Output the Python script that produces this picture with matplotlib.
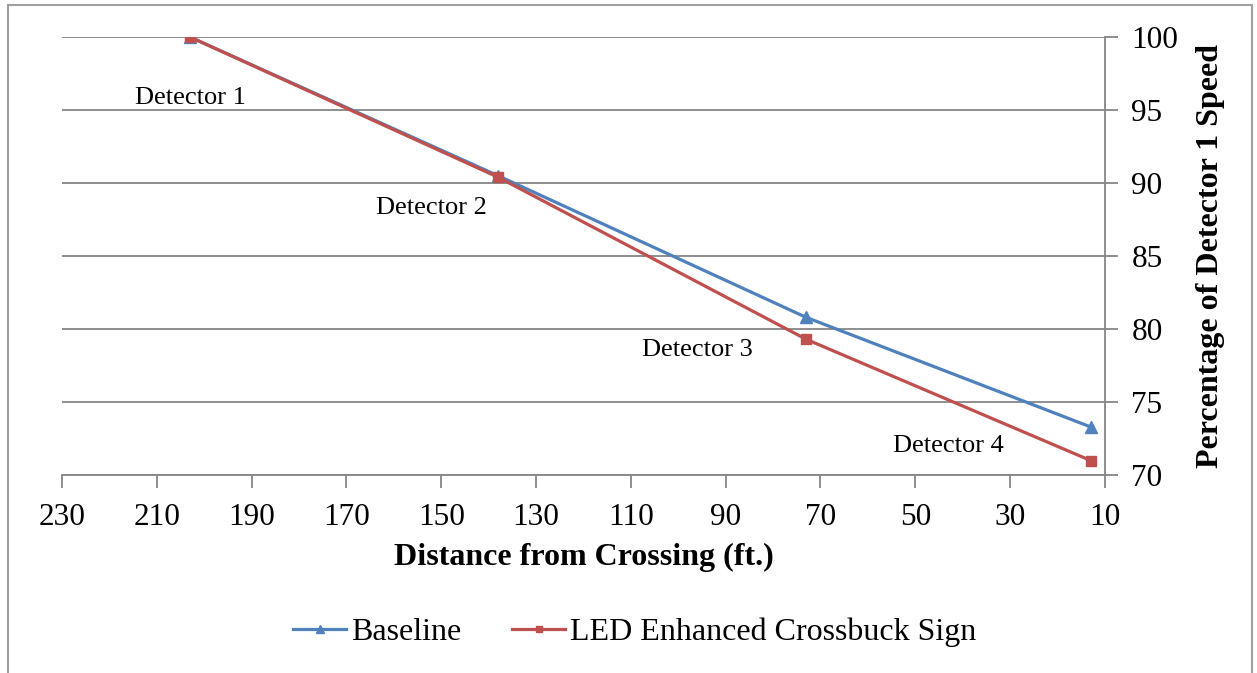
"""Speed profile along the approach: baseline vs LED enhanced crossbuck sign."""

import matplotlib
matplotlib.use("Agg")
import matplotlib.pyplot as plt
from matplotlib.patches import Rectangle

# Data
distance = [203, 138, 73, 13]
baseline = [100.0, 90.5, 80.8, 73.3]
led_sign = [100.0, 90.4, 79.3, 71.0]
series_names = ["Baseline", "LED Enhanced Crossbuck Sign"]

detector_labels = ["Detector 1", "Detector 2", "Detector 3", "Detector 4"]
label_x = [203, 152, 96, 43]
label_y = [95.8, 88.3, 78.6, 72.0]

x_ticks = list(range(230, 9, -20))
y_ticks = [70, 75, 80, 85, 90, 95, 100]

blue = "#4F81BD"
red = "#C0504D"
grid_gray = "#868686"

plt.rcParams["font.family"] = ["Liberation Serif", "DejaVu Serif"]

fig = plt.figure(figsize=(12.57, 6.73), dpi=100)
ax = fig.add_axes([0.0493, 0.294, 0.8297, 0.651])

ax.plot(distance, baseline, color=blue, lw=2.3, marker="^", ms=8,
        label=series_names[0], zorder=3)
ax.plot(distance, led_sign, color=red, lw=2.3, marker="s", ms=7,
        label=series_names[1], zorder=4)

for txt, lx, ly in zip(detector_labels, label_x, label_y):
    ax.text(lx, ly, txt, fontsize=19, ha="center", va="center")

ax.set_xlim(230, 10)
ax.set_ylim(70, 100)
ax.set_xticks(x_ticks)
ax.set_yticks(y_ticks)

# y axis on the right, grid lines only horizontal
ax.yaxis.tick_right()
ax.yaxis.set_label_position("right")
ax.grid(axis="y", color=grid_gray, lw=1.3)
ax.set_axisbelow(True)
for side in ["top", "left"]:
    ax.spines[side].set_visible(False)
for side in ["bottom", "right"]:
    ax.spines[side].set_color(grid_gray)
    ax.spines[side].set_linewidth(1.3)
ax.tick_params(axis="both", colors=grid_gray, width=1.3, length=9,
               labelcolor="black", labelsize=22.5)
ax.tick_params(axis="x", pad=11)
ax.tick_params(axis="y", pad=10)

ax.set_xlabel("Distance from Crossing (ft.)", fontsize=23, fontweight="bold",
              labelpad=8)
ax.set_ylabel("Percentage of Detector 1 Speed", fontsize=23,
              fontweight="bold", labelpad=13)

fig.legend(loc="center", bbox_to_anchor=(0.505, 0.06), ncol=2, frameon=False,
           fontsize=23, handlelength=1.65, handletextpad=0.15,
           columnspacing=1.6, markerscale=0.7)

# outer chart border
fig.patches.append(Rectangle((0.0064, -0.05), 0.9896, 1.043,
                             transform=fig.transFigure, fill=False,
                             edgecolor="#A0A0A0", lw=1.5))

fig.savefig("out.png", dpi=100)
plt.close(fig)
